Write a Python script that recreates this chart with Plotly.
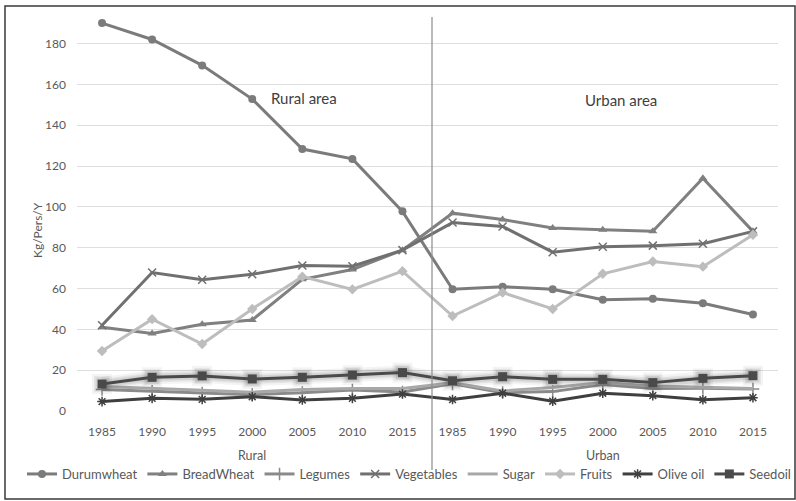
import plotly.graph_objects as go

years = ["1985", "1990", "1995", "2000", "2005", "2010", "2015"]
tick_labels = years + years
groups = ["Rural", "Urban"]

durumwheat = [190, 182, 169.3, 152.8, 128.3, 123.5, 97.8, 59.6, 60.9, 59.6, 54.5, 55, 52.8, 47.3]
breadwheat = [41, 38, 42.5, 44.6, 64.5, 69.3, 78.8, 96.9, 93.8, 89.7, 88.8, 88, 114, 88]
legumes = [10.5, 9.7, 8.8, 8, 9, 10.3, 9.3, 13.3, 9, 9.5, 13, 11, 11.1, 10.8]
vegetables = [42, 67.8, 64.3, 67, 71.3, 70.9, 78.8, 92.3, 90.4, 77.8, 80.5, 81, 81.9, 88]
sugar = [12, 11.2, 10.2, 9.2, 10.5, 11, 11, 13.8, 9.8, 11.5, 14, 12.3, 11.5, 11]
fruits = [29.4, 45, 32.8, 50, 65.8, 59.6, 68.5, 46.5, 58, 50, 67.2, 73.2, 70.7, 86.3]
olive_oil = [4.6, 6.2, 5.7, 7, 5.4, 6.2, 8.3, 5.6, 8.7, 4.8, 8.7, 7.5, 5.5, 6.5]
seedoil = [13.2, 16.5, 17.2, 15.7, 16.5, 17.6, 18.8, 14.8, 16.8, 15.5, 15.5, 13.9, 16, 17.3]

xs = list(range(len(tick_labels)))
FONT = "Lato, Open Sans, sans-serif"

series = [
    ("Durumwheat", durumwheat, "#7b7b7b", dict(symbol="circle", size=8)),
    ("BreadWheat", breadwheat, "#808080", dict(symbol="triangle-up", size=8)),
    ("Legumes", legumes, "#8a8a8a", dict(symbol="cross-thin", size=9, line=dict(width=1.5, color="#8a8a8a"))),
    ("Vegetables", vegetables, "#707070", dict(symbol="x-thin", size=8, line=dict(width=1.5, color="#707070"))),
    ("Sugar", sugar, "#a8a8a8", None),
    ("Fruits", fruits, "#bdbdbd", dict(symbol="diamond", size=8)),
    ("Olive oil", olive_oil, "#3f3f3f", dict(symbol="asterisk", size=8, line=dict(width=1.5, color="#3f3f3f"))),
]

fig = go.Figure()
for name, vals, col, mk in series:
    if mk is None:
        fig.add_trace(go.Scatter(x=xs, y=vals, name=name, mode="lines",
                                 line=dict(color=col, width=3)))
    else:
        mk = dict(mk)
        mk["color"] = col
        fig.add_trace(go.Scatter(x=xs, y=vals, name=name, mode="lines+markers",
                                 line=dict(color=col, width=3), marker=mk))

# soft glow under Seedoil
for w, a in [(14, 0.06), (10, 0.08), (7, 0.10)]:
    fig.add_trace(go.Scatter(x=xs, y=seedoil, mode="lines+markers", showlegend=False, hoverinfo="skip",
                             line=dict(color=f"rgba(60,60,60,{a})", width=w),
                             marker=dict(symbol="square", size=9 + w - 3, color=f"rgba(60,60,60,{a})")))
fig.add_trace(go.Scatter(x=xs, y=seedoil, name="Seedoil", mode="lines+markers",
                         line=dict(color="#4a4a4a", width=3),
                         marker=dict(symbol="square", size=9, color="#4a4a4a")))

L, R, T, B = 77, 778, 17, 411
W, H = 796, 501
pw, ph = R - L, B - T

def px_x(p):
    return (p - L) / pw

def px_y(p):
    return (B - p) / ph

fig.update_layout(
    width=W, height=H,
    margin=dict(l=L, r=W - R, t=T, b=H - B),
    paper_bgcolor="white", plot_bgcolor="white",
    font=dict(family=FONT, color="#595959", size=12),
    xaxis=dict(range=[-0.5, 13.5], tickvals=xs, ticktext=tick_labels, showgrid=False,
               zeroline=False, showline=False, ticks="", ticklabelstandoff=12,
               tickfont=dict(size=12, color="#595959", family=FONT)),
    yaxis=dict(range=[0, 193], tickvals=list(range(0, 181, 20)), showgrid=True,
               gridcolor="#dedede", gridwidth=1, zeroline=False, showline=False, ticks="",
               ticklabelstandoff=10, tickfont=dict(size=12, color="#595959", family=FONT)),
    legend=dict(orientation="h", x=px_x(22), xanchor="left", y=px_y(474), yanchor="middle",
                font=dict(size=13, color="#595959", family=FONT), itemwidth=30,
                bgcolor="rgba(0,0,0,0)", tracegroupgap=0),
    showlegend=True,
)

annotations = [
    dict(text="Rural area", x=4.04, y=153.5, xref="x", yref="y", showarrow=False,
         font=dict(size=15, color="#404040", family=FONT)),
    dict(text="Urban area", x=10.36, y=152.5, xref="x", yref="y", showarrow=False,
         font=dict(size=15, color="#404040", family=FONT)),
    dict(text=groups[0], x=3, y=px_y(455), xref="x", yref="paper", showarrow=False,
         xanchor="center", yanchor="middle",
         font=dict(size=12.5, color="#595959", family=FONT)),
    dict(text=groups[1], x=10, y=px_y(455), xref="x", yref="paper", showarrow=False,
         xanchor="center", yanchor="middle",
         font=dict(size=12.5, color="#595959", family=FONT)),
    dict(text="Kg/Pers/Y", x=px_x(37), y=px_y(230), xref="paper", yref="paper", showarrow=False,
         xanchor="center", yanchor="middle",
         textangle=-90, font=dict(size=12, color="#595959", family=FONT)),
]
fig.update_layout(annotations=annotations)

fig.add_shape(type="line", xref="paper", yref="paper", x0=px_x(432), x1=px_x(432),
              y0=px_y(17), y1=px_y(470), line=dict(color="#8c8c8c", width=1.2))
fig.add_shape(type="rect", xref="paper", yref="paper", x0=px_x(5), x1=px_x(795),
              y0=px_y(499), y1=px_y(6), line=dict(color="#3a3a3a", width=1.5))

fig.write_html("out.html")
